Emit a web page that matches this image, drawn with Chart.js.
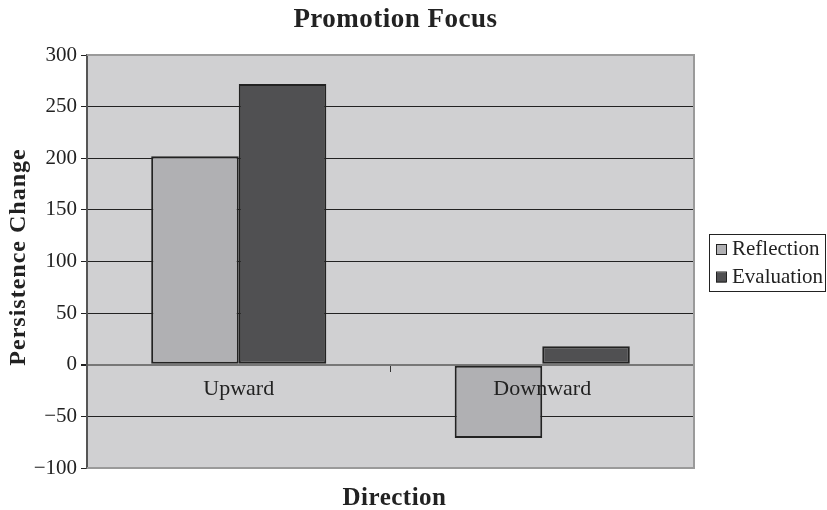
<!DOCTYPE html>
<html>
<head>
<meta charset="utf-8">
<script src="https://cdn.jsdelivr.net/npm/chart.js@4/dist/chart.umd.min.js"></script>
<style>
  html, body { margin: 0; padding: 0; background: #fff; }
  #wrap { width: 827px; height: 510px; }
</style>
</head>
<body>
<div id="wrap"><canvas id="bar-chart" width="827" height="510"></canvas></div>
<script>
// Dados do gráfico
const categorias = ['Upward', 'Downward'];
const reflection = [202, -71];
const evaluation = [272, 18];
const tituloGrafico = 'Promotion Focus';
const tituloX = 'Direction';
const tituloY = 'Persistence Change';

const fonte = '"Liberation Serif", "Times New Roman", serif';

// Fundo cinza da área do gráfico, com borda superior/direita
const fundoPlugin = {
    id: 'fundo',
    beforeDraw(chart) {
        const { ctx, chartArea: a } = chart;
        ctx.save();
        ctx.fillStyle = '#d0d0d2';
        ctx.fillRect(a.left, a.top, a.right - a.left, a.bottom - a.top);
        ctx.restore();
    },
    afterDatasetsDraw(chart) {
        const { ctx, chartArea: a } = chart;
        ctx.save();
        ctx.strokeStyle = '#9a9a9a';
        ctx.lineWidth = 2;
        ctx.beginPath();
        ctx.moveTo(a.left, a.top);
        ctx.lineTo(a.right, a.top);
        ctx.lineTo(a.right, a.bottom);
        ctx.lineTo(a.left, a.bottom);
        ctx.stroke();
        ctx.restore();
    }
};

// Títulos e legenda com moldura
const textosPlugin = {
    id: 'textos',
    afterDraw(chart) {
        const { ctx, chartArea: a } = chart;
        const cx = (a.left + a.right) / 2 + 5;
        ctx.save();
        ctx.fillStyle = '#222';
        ctx.textAlign = 'center';
        ctx.textBaseline = 'alphabetic';
        ctx.font = 'bold 27px ' + fonte;
        ctx.letterSpacing = '0.5px';
        ctx.fillText(tituloGrafico, cx, 27);
        ctx.font = 'bold 25px ' + fonte;
        ctx.fillText(tituloX, cx - 1, 505);

        ctx.translate(25, 257);
        ctx.rotate(-Math.PI / 2);
        ctx.font = 'bold 24px ' + fonte;
        ctx.letterSpacing = '1px';
        ctx.fillText(tituloY, 0, 0);
        ctx.restore();

        // Legenda: um item por série
        const x0 = a.right + 15;
        const y0 = 234;
        const linha = 27.5;
        const itens = chart.data.datasets;
        ctx.save();
        ctx.strokeStyle = '#222';
        ctx.lineWidth = 1;
        ctx.strokeRect(x0 + 0.5, y0 + 0.5, 116, 57);
        ctx.font = '21px ' + fonte;
        ctx.textAlign = 'left';
        ctx.textBaseline = 'alphabetic';
        itens.forEach((ds, i) => {
            const base = y0 + 21 + i * linha;
            ctx.fillStyle = ds.backgroundColor;
            ctx.fillRect(x0 + 7, base - 10, 10, 10);
            ctx.strokeRect(x0 + 7.5, base - 10.5, 10, 10);
            ctx.fillStyle = '#222';
            ctx.fillText(ds.label, x0 + 23, base);
        });
        ctx.restore();
    }
};

const ctx = document.getElementById('bar-chart').getContext('2d');

new Chart(ctx, {
    type: 'bar',
    data: {
        labels: categorias,
        datasets: [{
            label: 'Reflection',
            data: reflection,
            backgroundColor: '#b0b0b3',
            borderColor: '#222',
            borderWidth: 2,
            borderSkipped: false
        }, {
            label: 'Evaluation',
            data: evaluation,
            backgroundColor: '#505052',
            borderColor: '#222',
            borderWidth: 2,
            borderSkipped: false
        }]
    },
    options: {
        responsive: false,
        animation: false,
        datasets: {
            bar: {
                barPercentage: 1,
                categoryPercentage: 0.577
            }
        },
        layout: {
            padding: { top: 55, bottom: 42, left: 0, right: 133 }
        },
        scales: {
            x: {
                position: { y: 0 },
                grid: {
                    drawOnChartArea: false,
                    color: '#333',
                    tickLength: 6,
                    offset: true
                },
                border: { color: '#777', width: 2 },
                ticks: {
                    z: 1,
                    color: '#222',
                    font: { family: fonte, size: 22 },
                    padding: 5
                }
            },
            y: {
                min: -100,
                max: 300,
                afterFit(scale) { scale.width = 87; },
                grid: {
                    color: (c) => {
                        const v = c.tick ? c.tick.value : null;
                        if (v === 0) return '#777';
                        if (v === 300 || v === -100) return '#9a9a9a';
                        return '#222';
                    },
                    lineWidth: (c) => (c.tick && c.tick.value === 0 ? 2 : 1),
                    tickColor: '#222',
                    tickLength: 6
                },
                border: { color: '#555', width: 2 },
                ticks: {
                    stepSize: 50,
                    color: '#222',
                    font: { family: fonte, size: 21 },
                    padding: 4,
                    callback: (v) => String(v).replace('-', '\u2212')
                }
            }
        },
        plugins: {
            title: { display: false },
            tooltip: { enabled: false },
            legend: { display: false }
        }
    },
    plugins: [fundoPlugin, textosPlugin]
});
</script>
</body>
</html>
